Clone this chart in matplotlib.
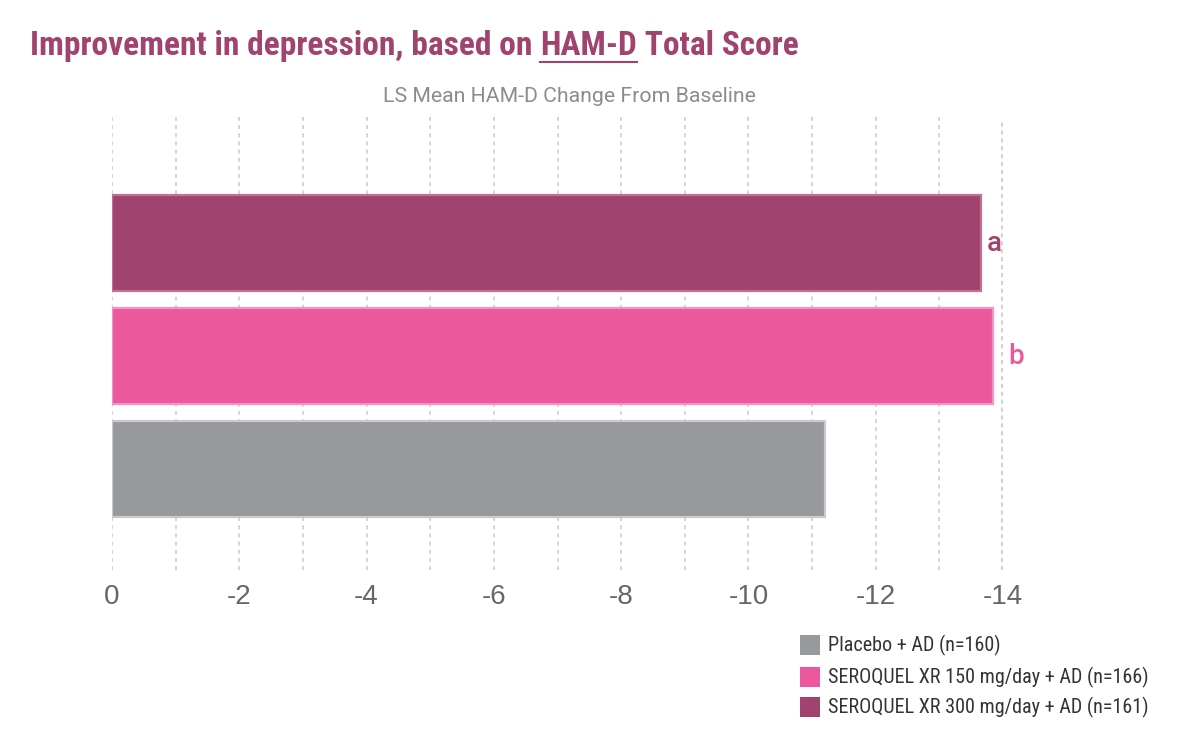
import matplotlib
matplotlib.use("Agg")
import matplotlib.pyplot as plt
from matplotlib import font_manager as fm
from matplotlib.patches import Rectangle
from matplotlib.lines import Line2D

# ---- data ----
categories = ["Placebo + AD (n=160)",
              "SEROQUEL XR 150 mg/day + AD (n=166)",
              "SEROQUEL XR 300 mg/day + AD (n=161)"]
values = [-11.2, -13.85, -13.65]
bar_colors = ["#98999c", "#ec589e", "#a0436e"]
edge_colors = ["#c9cacd", "#f393c2", "#c2719a"]
annotations = ["", "b", "a"]
tick_values = [0, -2, -4, -6, -8, -10, -12, -14]
tick_labels = ["0", "-2", "-4", "-6", "-8", "-10", "-12", "-14"]
grid_values = list(range(0, -14, -1))

names = {f.name for f in fm.fontManager.ttflist}
narrow = None
for cand in ["Roboto Condensed", "Liberation Sans Narrow", "DejaVu Sans Condensed"]:
    if cand in names:
        narrow = cand
        break
if narrow is None:
    narrow = "DejaVu Sans"
NARROW = [narrow, "DejaVu Sans"]
SANS = ["Liberation Sans", "DejaVu Sans"]
ROBOTO = ["Roboto", "DejaVu Sans"]

W, H = 1180, 730
fig = plt.figure(figsize=(W / 100, H / 100), dpi=100)
fig.patch.set_facecolor("white")

ax_left, ax_right, ax_top, ax_bot = 112, 1003, 113, 570
ax = fig.add_axes([ax_left / W, 1 - ax_bot / H, (ax_right - ax_left) / W, (ax_bot - ax_top) / H])
ax.set_xlim(0, -14)
ax.set_ylim(-0.889, 3.15)

for g in grid_values:
    ax.axvline(g, color="#d4d4d4", lw=1.4, ls=(0, (2, 2.2)), zorder=0)
ax.axvline(-14, ymin=0, ymax=0.985, color="#d2d2d2", lw=3.0, ls=(0, (1, 0.9)), zorder=0)

ypos = list(range(len(categories)))
ax.barh(ypos, values, height=0.85, color=bar_colors, edgecolor=edge_colors, linewidth=1.6, zorder=2)

offsets = {"a": 4, "b": 11}
for y, v, a, c in zip(ypos, values, annotations, bar_colors):
    if a:
        ax.annotate(a, xy=(v, y), xytext=(offsets[a], 0), textcoords="offset points",
                    ha="left", va="center", fontsize=20, color=c, fontweight="medium",
                    family=ROBOTO)

ax.set_xticks(tick_values)
ax.set_xticklabels(tick_labels, fontsize=20, color="#666666", family=SANS)
ax.tick_params(axis="x", length=0, pad=10)
ax.set_yticks([])
for s in ax.spines.values():
    s.set_visible(False)

# title
title_color = "#a0436e"
TS = 24
t1 = fig.text(30 / W, 1 - 55 / H, "Improvement in depression, based on ", fontsize=TS,
              fontweight="bold", color=title_color, family=NARROW, ha="left", va="baseline")
t2 = fig.text(0, 0, "HAM-D", fontsize=TS, fontweight="bold", color=title_color,
              family=NARROW, ha="left", va="baseline")
t3 = fig.text(0, 0, " Total Score", fontsize=TS, fontweight="bold", color=title_color,
              family=NARROW, ha="left", va="baseline")
fig.canvas.draw()
r = fig.canvas.get_renderer()
b1 = t1.get_window_extent(r)
t2.set_position((b1.x1 / W, t1.get_position()[1]))
fig.canvas.draw()
b2 = t2.get_window_extent(r)
t3.set_position((b2.x1 / W, t1.get_position()[1]))
uy = 1 - 62 / H
fig.add_artist(Line2D([b2.x0 / W, b2.x1 / W], [uy, uy], color=title_color, lw=1.5))

fig.text(569 / W, 1 - 97 / H, "LS Mean HAM-D Change From Baseline", fontsize=15.3,
         color="#8c8c8c", family=ROBOTO, ha="center", va="center")

# legend
leg_rows = [645, 677, 707]
for (cat, col, yy) in zip(categories, bar_colors, leg_rows):
    fig.add_artist(Rectangle((800 / W, 1 - (yy + 10) / H), 20 / W, 20 / H,
                             facecolor=col, edgecolor="none", transform=fig.transFigure))
    fig.text(828 / W, 1 - yy / H, cat, fontsize=14.5, color="#333333", family=NARROW,
             ha="left", va="center")

fig.savefig("out.png", dpi=100, facecolor="white")
